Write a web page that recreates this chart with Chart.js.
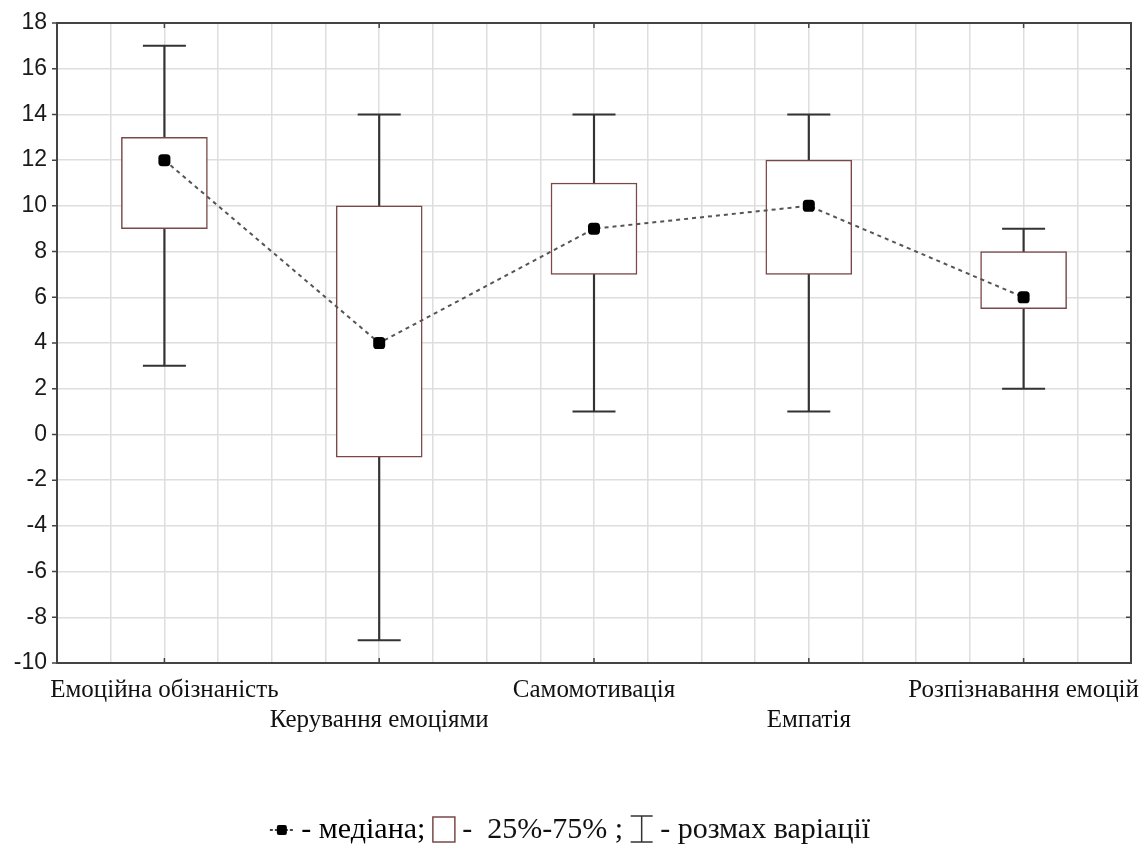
<!DOCTYPE html>
<html>
<head>
<meta charset="utf-8">
<script src="https://cdn.jsdelivr.net/npm/chart.js@4"></script>
<style>
  html, body { margin: 0; padding: 0; background: #fff; overflow: hidden; }
  #wrap { width: 1146px; height: 845px; position: relative; }
</style>
</head>
<body>
<div id="wrap"><canvas id="chart" width="1146" height="845"></canvas></div>
<script>
// --- data ---
const categories = ['Емоційна обізнаність', 'Керування емоціями', 'Самомотивація', 'Емпатія', 'Розпізнавання емоцій'];
const positions = [2, 6, 10, 14, 18];
const medians = [12, 4, 9, 10, 6];
const q1 = [9, -1, 7, 7, 5.5];
const q3 = [13, 10, 11, 12, 8];
const mins = [3, -9, 1, 1, 2];
const maxs = [17, 14, 14, 14, 9];
const yTicks = [-10, -8, -6, -4, -2, 0, 2, 4, 6, 8, 10, 12, 14, 16, 18];

const boxColor = '#7b4848';
const whiskerColor = '#333';
const serif = '"Liberation Serif", "Times New Roman", serif';

// frame, small tick marks and the bottom key
const framePlugin = {
    id: 'frame',
    beforeDatasetsDraw(chart) {
        const ctx = chart.ctx;
        const a = chart.chartArea;
        const xs = chart.scales.x, ys = chart.scales.y;
        ctx.save();
        ctx.strokeStyle = '#444';
        ctx.lineWidth = 2;
        ctx.strokeRect(a.left, a.top, a.right - a.left, a.bottom - a.top);
        ctx.lineWidth = 1.5;
        ctx.beginPath();
        yTicks.forEach(v => {
            const y = ys.getPixelForValue(v);
            ctx.moveTo(a.left - 5, y); ctx.lineTo(a.left, y);
            ctx.moveTo(a.right - 5, y); ctx.lineTo(a.right, y);
        });
        positions.forEach(p => {
            const x = xs.getPixelForValue(p);
            ctx.moveTo(x, a.top); ctx.lineTo(x, a.top + 5);
            ctx.moveTo(x, a.bottom); ctx.lineTo(x, a.bottom - 5);
        });
        ctx.stroke();
        ctx.restore();
    },
    afterDraw(chart) {
        const ctx = chart.ctx;
        ctx.save();
        ctx.font = '30px ' + serif;
        ctx.fillStyle = '#111';
        ctx.textBaseline = 'middle';
        const y = 830;
        const t1 = ' - медіана; ';
        const t2 = ' -  25%-75% ; ';
        const t3 = ' - розмах варіації';
        const w1 = ctx.measureText(t1).width;
        const w2 = ctx.measureText(t2).width;
        const w3 = ctx.measureText(t3).width;
        const iconA = 24, iconB = 22, iconC = 22;
        const total = iconA + w1 + iconB + w2 + iconC + w3;
        let x = 570 - total / 2;

        // median icon
        ctx.strokeStyle = '#444';
        ctx.lineWidth = 2;
        ctx.setLineDash([3, 2]);
        ctx.beginPath(); ctx.moveTo(x, y); ctx.lineTo(x + iconA, y); ctx.stroke();
        ctx.setLineDash([]);
        ctx.fillStyle = '#000';
        ctx.beginPath();
        ctx.roundRect(x + iconA / 2 - 5, y - 5, 10, 10, 2);
        ctx.fill();
        x += iconA;
        ctx.fillText(t1, x, y);
        x += w1;

        // box icon
        ctx.strokeStyle = boxColor;
        ctx.lineWidth = 1.5;
        ctx.strokeRect(x, y - 13, iconB, 25);
        x += iconB;
        ctx.fillStyle = '#111';
        ctx.fillText(t2, x, y);
        x += w2;

        // range icon
        ctx.strokeStyle = whiskerColor;
        ctx.lineWidth = 1.5;
        ctx.beginPath();
        ctx.moveTo(x, y - 14); ctx.lineTo(x + iconC, y - 14);
        ctx.moveTo(x + iconC / 2, y - 14); ctx.lineTo(x + iconC / 2, y + 12);
        ctx.moveTo(x, y + 12); ctx.lineTo(x + iconC, y + 12);
        ctx.stroke();
        x += iconC;
        ctx.fillText(t3, x, y);
        ctx.restore();
    }
};

const ctx = document.getElementById('chart').getContext('2d');
new Chart(ctx, {
    type: 'bar',
    data: {
        datasets: [
            {
                type: 'line',
                data: positions.map((p, i) => ({ x: p, y: medians[i] })),
                borderColor: '#555',
                borderWidth: 2,
                borderDash: [4, 4],
                pointStyle: 'rectRounded',
                pointRadius: 7,
                pointBackgroundColor: '#000',
                pointBorderColor: '#000',
                pointBorderWidth: 0,
                order: 0
            },
            {
                type: 'scatter',
                data: positions.map((p, i) => ({ x: p, y: maxs[i] })),
                pointStyle: 'line',
                pointRadius: 21.5,
                borderColor: whiskerColor,
                borderWidth: 2,
                order: 1
            },
            {
                type: 'scatter',
                data: positions.map((p, i) => ({ x: p, y: mins[i] })),
                pointStyle: 'line',
                pointRadius: 21.5,
                borderColor: whiskerColor,
                borderWidth: 2,
                order: 1
            },
            {
                type: 'bar',
                data: positions.map((p, i) => ({ x: p, y: [q1[i], q3[i]] })),
                backgroundColor: '#fff',
                borderColor: boxColor,
                borderWidth: 1.5,
                borderSkipped: false,
                barThickness: 86,
                grouped: false,
                order: 2
            },
            {
                type: 'bar',
                data: positions.map((p, i) => ({ x: p, y: [mins[i], maxs[i]] })),
                backgroundColor: whiskerColor,
                borderWidth: 0,
                barThickness: 1.5,
                grouped: false,
                order: 3
            }
        ]
    },
    options: {
        responsive: false,
        animation: false,
        layout: { autoPadding: false, padding: { top: 23, right: 15, left: 0, bottom: 0 } },
        plugins: { legend: { display: false }, tooltip: { enabled: false } },
        scales: {
            x: {
                type: 'linear',
                min: 0,
                max: 20,
                offset: false,
                border: { display: false },
                grid: { color: '#dedede', lineWidth: 1.5, drawTicks: false, offset: false },
                afterFit(scale) {
                    scale.height = 182;
                    scale.paddingLeft = 0;
                    scale.paddingRight = 0;
                },
                ticks: {
                    stepSize: 1,
                    autoSkip: false,
                    maxRotation: 0,
                    padding: 12,
                    color: '#111',
                    font: { family: serif, size: 25, lineHeight: 1.2 },
                    callback(value) {
                        const i = positions.indexOf(value);
                        if (i < 0) return '';
                        return i % 2 === 0 ? categories[i] : ['', categories[i]];
                    }
                }
            },
            y: {
                min: -10,
                max: 18,
                border: { display: false },
                grid: { color: '#dedede', lineWidth: 1.5, drawTicks: false },
                afterFit(scale) {
                    scale.width = 57;
                    scale.paddingTop = 0;
                },
                ticks: {
                    stepSize: 2,
                    padding: 10,
                    color: '#1a1a1a',
                    font: { family: '"Liberation Sans", Arial, sans-serif', size: 23 }
                }
            }
        }
    },
    plugins: [framePlugin]
});
</script>
</body>
</html>
